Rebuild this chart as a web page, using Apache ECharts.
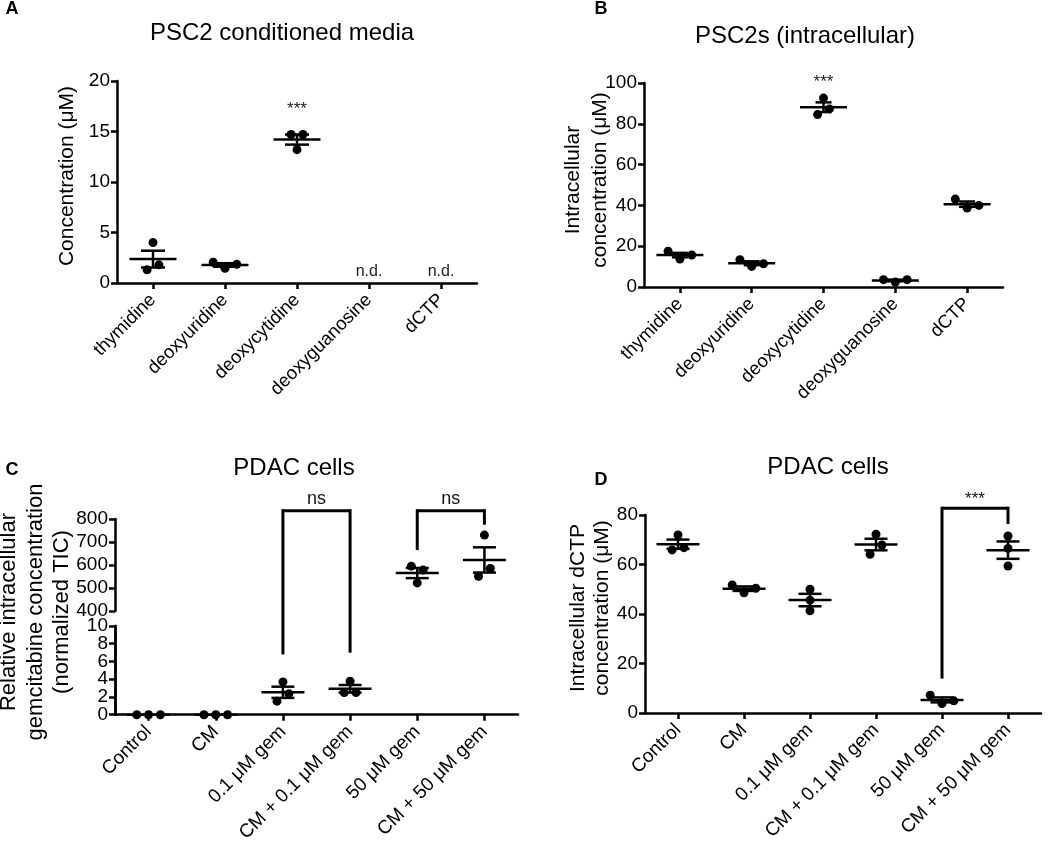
<!DOCTYPE html>
<html><head><meta charset="utf-8">
<script src="https://cdn.jsdelivr.net/npm/echarts@6/dist/echarts.min.js"></script>
<style>html,body{margin:0;padding:0;background:#fff}#c{width:1050px;height:845px}</style>
</head><body><div id="c"></div>
<script>
const FONT = "'Liberation Sans', Arial, Helvetica, sans-serif";

// ---------- Panel A: PSC2 conditioned media ----------
const catsA = ['thymidine', 'deoxyuridine', 'deoxycytidine', 'deoxyguanosine', 'dCTP'];
const valsA = [
  [4.0, 1.3, 1.8],
  [2.05, 1.45, 1.85],
  [14.7, 14.7, 13.2],
  [],            // n.d.
  []             // n.d.
];
const ticksA = {min: 0, max: 20, interval: 5};

// ---------- Panel B: PSC2s (intracellular) ----------
const catsB = ['thymidine', 'deoxyuridine', 'deoxycytidine', 'deoxyguanosine', 'dCTP'];
const valsB = [
  [17.5, 13.7, 15.7],
  [13.4, 10.1, 11.4],
  [92.6, 84.5, 87.3],
  [3.6, 2.4, 3.6],
  [43.1, 38.7, 40.0]
];
const ticksB = {min: 0, max: 100, interval: 20};

// ---------- Panel C: PDAC cells (gemcitabine, broken axis) ----------
const catsC = ['Control', 'CM', '0.1 μM gem', 'CM + 0.1 μM gem', '50 μM gem', 'CM + 50 μM gem'];
const valsC = [
  [0, 0, 0],
  [0, 0, 0],
  [3.7, 1.53, 2.36],
  [3.78, 2.5, 2.5],
  [595, 578, 522],
  [730, 551, 585]
];
const ticksCLow = {min: 0, max: 10, interval: 2};
const ticksCLowEnds = {min: 0, max: 10, interval: 10};
const ticksCHigh = {min: 400, max: 800, interval: 100};
const lowGroupsC = [0, 1, 2, 3];
const highGroupsC = [4, 5];

// ---------- Panel D: PDAC cells (dCTP) ----------
const catsD = ['Control', 'CM', '0.1 μM gem', 'CM + 0.1 μM gem', '50 μM gem', 'CM + 50 μM gem'];
const valsD = [
  [71.9, 65.9, 66.8],
  [51.7, 48.6, 50.4],
  [50.0, 45.6, 41.3],
  [72.2, 64.1, 67.9],
  [7.2, 3.8, 4.9],
  [71.5, 66.5, 59.4]
];
const ticksD = {min: 0, max: 80, interval: 20};

// ---------- helpers ----------
function mean(a) { return a.reduce((s, v) => s + v, 0) / a.length; }
function sem(a) {
  if (a.length < 2) return 0;
  const m = mean(a);
  const sd = Math.sqrt(a.reduce((s, v) => s + (v - m) * (v - m), 0) / (a.length - 1));
  return sd / Math.sqrt(a.length);
}

function makeRender(groups, o) {
  return function (params, api) {
    const gi = api.value(0);
    const vals = groups[gi];
    if (!vals || !vals.length) return;
    const m = mean(vals), s = sem(vals);
    const c = api.coord([gi, m]);
    const t = api.coord([gi, m + s]);
    const b = api.coord([gi, m - s]);
    const pts = vals.map((v, i) => ({i: i, y: api.coord([gi, v])[1]}));
    const sorted = pts.slice().sort((p, q) => p.y - q.y);
    const off = new Array(vals.length).fill(0);
    let cl = [sorted[0]];
    const flush = () => {
      cl.sort((p, q) => p.i - q.i);
      cl.forEach((p, k) => { off[p.i] = (k - (cl.length - 1) / 2) * o.step; });
    };
    for (let k = 1; k < sorted.length; k++) {
      if (sorted[k].y - sorted[k - 1].y <= o.T) cl.push(sorted[k]);
      else { flush(); cl = [sorted[k]]; }
    }
    flush();
    const ls = {stroke: '#000', lineWidth: o.lw};
    const ch = [];
    pts.forEach(p => ch.push({type: 'circle', shape: {cx: c[0] + off[p.i], cy: p.y, r: o.r}, style: {fill: '#000'}}));
    ch.push({type: 'line', shape: {x1: c[0] - o.meanW, y1: c[1], x2: c[0] + o.meanW, y2: c[1]}, style: ls});
    if (s > 0) {
      ch.push({type: 'line', shape: {x1: c[0], y1: t[1], x2: c[0], y2: b[1]}, style: ls});
      ch.push({type: 'line', shape: {x1: c[0] - o.capW, y1: t[1], x2: c[0] + o.capW, y2: t[1]}, style: ls});
      ch.push({type: 'line', shape: {x1: c[0] - o.capW, y1: b[1], x2: c[0] + o.capW, y2: b[1]}, style: ls});
    }
    return {type: 'group', children: ch};
  };
}

function seriesData(groups, idx) {
  const list = idx || groups.map((g, i) => i);
  return list.filter(i => groups[i].length).map(i => [i, mean(groups[i])]);
}

function catAxis(grid, cats, show, fs) {
  return {
    type: 'category', gridIndex: grid, data: cats, boundaryGap: true,
    axisLine: {show: show, onZero: false, lineStyle: {color: '#000', width: 2.5}},
    axisTick: {show: show, alignWithLabel: true, length: 6, lineStyle: {color: '#000', width: 2.5}},
    axisLabel: {show: show, rotate: 45, interval: 0, fontSize: fs || 18.5, color: '#000', fontFamily: FONT, margin: 14},
    splitLine: {show: false}
  };
}
function valAxis(grid, tk, ends) {
  return {
    type: 'value', gridIndex: grid, position: 'left', min: tk.min, max: tk.max, interval: tk.interval,
    axisLine: {show: true, onZero: false, lineStyle: {color: '#000', width: 2.5}},
    axisTick: {show: true, length: 6, lineStyle: {color: '#000', width: 2.5}},
    axisLabel: {fontSize: 19, color: '#000', fontFamily: FONT, margin: 7,
      showMinLabel: ends !== false, showMaxLabel: ends !== false},
    splitLine: {show: false}
  };
}

const styAB = {r: 4.5, lw: 2.5, meanW: 23.5, capW: 12, step: 11.8, T: 10};
const styB = {r: 4.5, lw: 2.5, meanW: 23.5, capW: 8, step: 11.8, T: 10};
const styCD = {r: 4.5, lw: 2.5, meanW: 21.5, capW: 11.5, step: 11.8, T: 10};

const chart = echarts.init(document.getElementById('c'));
chart.setOption({
  animation: false,
  backgroundColor: '#fff',
  grid: [
    {left: 117, top: 81, width: 360, height: 202},   // A
    {left: 644, top: 83, width: 359, height: 204},   // B
    {left: 115, top: 519, width: 403, height: 92},   // C upper
    {left: 115, top: 626, width: 403, height: 91},   // C lower
    {left: 645, top: 515, width: 396, height: 198}   // D
  ],
  xAxis: [
    catAxis(0, catsA, true, 18.5),
    catAxis(1, catsB, true, 18.5),
    catAxis(2, catsC, false, 19),
    catAxis(3, catsC, true, 19),
    catAxis(4, catsD, true, 19)
  ],
  yAxis: [
    valAxis(0, ticksA),
    valAxis(1, ticksB),
    valAxis(2, ticksCHigh),
    valAxis(3, ticksCLow, false),     // inner ticks/labels 2..8 (end labels drawn by axis 5)
    valAxis(4, ticksD),
    valAxis(3, ticksCLowEnds)         // end labels 0 and 10 of the lower segment
  ],
  series: [
    {type: 'custom', xAxisIndex: 0, yAxisIndex: 0, clip: false, renderItem: makeRender(valsA, styAB), data: seriesData(valsA)},
    {type: 'custom', xAxisIndex: 1, yAxisIndex: 1, clip: false, renderItem: makeRender(valsB, styB), data: seriesData(valsB)},
    {type: 'custom', xAxisIndex: 2, yAxisIndex: 2, clip: false, renderItem: makeRender(valsC, styCD), data: seriesData(valsC, highGroupsC)},
    {type: 'custom', xAxisIndex: 3, yAxisIndex: 3, clip: false, renderItem: makeRender(valsC, styCD), data: seriesData(valsC, lowGroupsC)},
    {type: 'custom', xAxisIndex: 4, yAxisIndex: 4, clip: false, renderItem: makeRender(valsD, styCD), data: seriesData(valsD)}
  ]
});

// ---------- annotations ----------
function px(ax, x, y) { return chart.convertToPixel({xAxisIndex: ax, yAxisIndex: ax}, [x, y]); }
function txt(x, y, s, size, opts) {
  opts = opts || {};
  return {
    type: 'text', x: x, y: y, rotation: opts.rot || 0, z: 10,
    style: {text: s, fontSize: size, fontFamily: FONT, fontWeight: opts.bold ? 'bold' : 'normal',
      fill: opts.color || '#000', align: 'center', verticalAlign: 'middle', lineHeight: opts.lh || size * 1.2}
  };
}
function seg(p, q) {
  return {type: 'line', z: 10, shape: {x1: p[0], y1: p[1], x2: q[0], y2: q[1]}, style: {stroke: '#000', lineWidth: 3}};
}
function bracket(topAx, topVal, a, aAx, aVal, b, bAx, bVal, label, labelSize, labelGap) {
  const ta = px(topAx, a, topVal), tb = px(topAx, b, topVal);
  const ea = px(aAx, a, aVal), eb = px(bAx, b, bVal);
  return [
    seg([ta[0], ta[1]], [tb[0], tb[1]]),
    seg([ta[0], ta[1] - 1.5], [ea[0], ea[1]]),
    seg([tb[0], tb[1] - 1.5], [eb[0], eb[1]]),
    txt((ta[0] + tb[0]) / 2, ta[1] - labelGap, label, labelSize, {color: '#111'})
  ];
}

const g = [];
// titles & panel letters
g.push(txt(282, 33, 'PSC2 conditioned media', 24));
g.push(txt(805, 36, 'PSC2s (intracellular)', 24));
g.push(txt(294, 468, 'PDAC cells', 24));
g.push(txt(828, 467, 'PDAC cells', 24));
g.push(txt(12, 9, 'A', 18, {bold: true}));
g.push(txt(601, 9, 'B', 18, {bold: true}));
g.push(txt(12, 470, 'C', 18, {bold: true}));
g.push(txt(601, 480, 'D', 18, {bold: true}));
// y-axis titles
g.push(txt(67.5, 176, 'Concentration (μM)', 21, {rot: Math.PI / 2}));
g.push(txt(587, 180, 'Intracellular\nconcentration (μM)', 21, {rot: Math.PI / 2, lh: 27}));
g.push(txt(35.5, 612, 'Relative intracellular\ngemcitabine concentration\n(normalized TIC)', 22, {rot: Math.PI / 2, lh: 26.5}));
g.push(txt(590, 608, 'Intracellular dCTP\nconcentration (μM)', 21, {rot: Math.PI / 2, lh: 24}));
// significance & n.d.
let p = px(0, 2, 17.6); g.push(txt(p[0], p[1] + 4, '***', 17, {color: '#222'}));
p = px(0, 3, 1.1); g.push(txt(p[0], p[1], 'n.d.', 16, {color: '#222'}));
p = px(0, 4, 1.1); g.push(txt(p[0], p[1], 'n.d.', 16, {color: '#222'}));
p = px(1, 2, 102.5); g.push(txt(p[0], p[1] + 4, '***', 17, {color: '#222'}));
// C brackets (top on upper segment, legs reaching into either segment)
bracket(2, 836, 2, 3, 6.8, 3, 3, 7.0, 'ns', 18, 12).forEach(e => g.push(e));
bracket(2, 836, 4, 2, 665, 5, 2, 775, 'ns', 18, 12).forEach(e => g.push(e));
// D bracket
bracket(4, 82.75, 4, 4, 13.9, 5, 4, 76.4, '***', 17, 9).forEach(e => g.push(e));

chart.setOption({graphic: g});
</script>
</body></html>
